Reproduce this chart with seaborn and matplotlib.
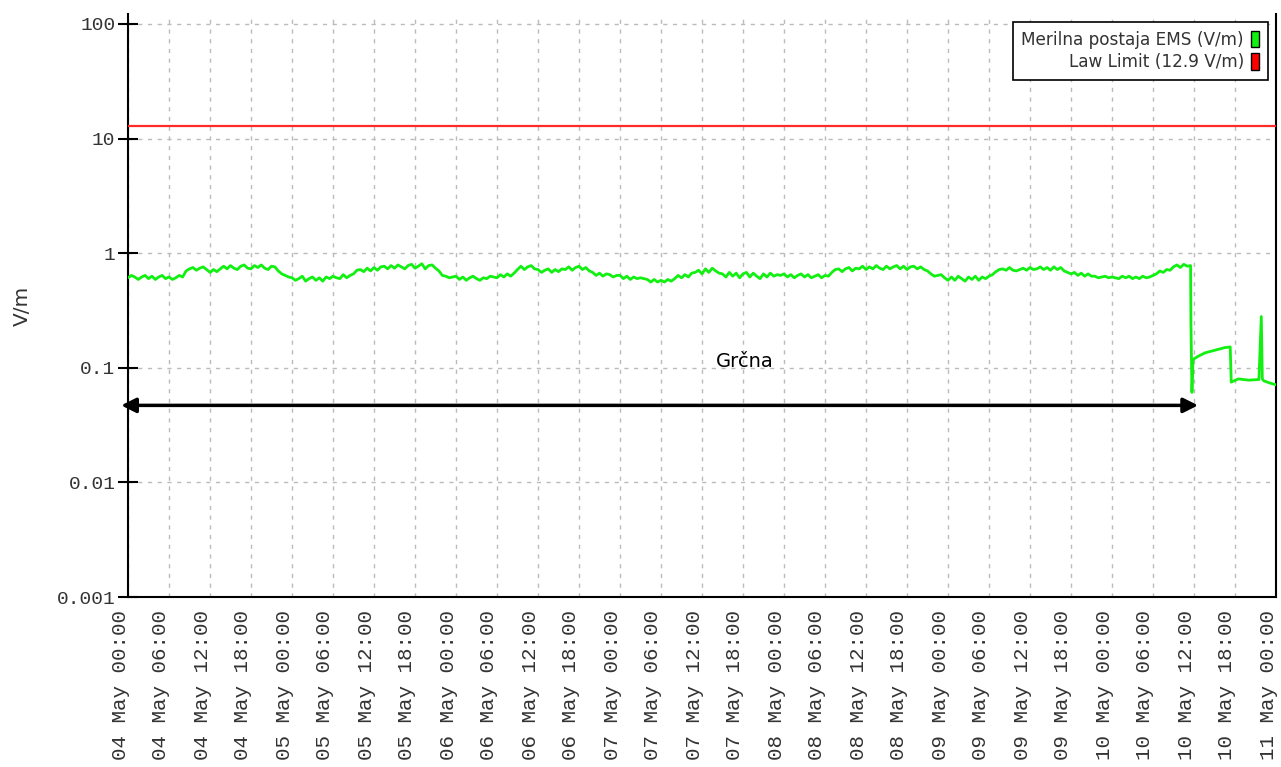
"""EMS field strength time series (Grčna) on a log scale."""

import matplotlib
matplotlib.use("Agg")
import matplotlib.dates as mdates
import matplotlib.pyplot as plt
import matplotlib.ticker as mticker
import matplotlib.transforms as mtransforms
import pandas as pd
import seaborn as sns
from matplotlib.patches import Patch

# --- data ----------------------------------------------------------------
START = pd.Timestamp("2023-05-04 00:00")
END = pd.Timestamp("2023-05-11 00:00")

# half-hourly readings (V/m), one row per day, from 04 May 00:00 to 10 May 11:30
field_day1 = [0.61, 0.64, 0.62, 0.59, 0.62, 0.64, 0.60, 0.63, 0.59, 0.62, 0.64, 0.60,
              0.62, 0.59, 0.61, 0.64, 0.62, 0.70, 0.73, 0.75, 0.71, 0.74, 0.76, 0.72,
              0.68, 0.72, 0.69, 0.73, 0.77, 0.73, 0.78, 0.74, 0.72, 0.77, 0.79, 0.74,
              0.73, 0.78, 0.75, 0.79, 0.74, 0.72, 0.77, 0.76, 0.70, 0.66, 0.64, 0.62]
field_day2 = [0.61, 0.58, 0.60, 0.63, 0.57, 0.60, 0.62, 0.58, 0.61, 0.57, 0.62, 0.60,
              0.63, 0.61, 0.60, 0.65, 0.61, 0.64, 0.66, 0.71, 0.72, 0.69, 0.74, 0.70,
              0.75, 0.71, 0.76, 0.77, 0.73, 0.78, 0.74, 0.79, 0.76, 0.73, 0.78, 0.80,
              0.74, 0.77, 0.81, 0.73, 0.78, 0.79, 0.74, 0.70, 0.64, 0.63, 0.61, 0.62]
field_day3 = [0.63, 0.59, 0.62, 0.58, 0.61, 0.63, 0.60, 0.58, 0.61, 0.60, 0.63, 0.62,
              0.61, 0.65, 0.62, 0.66, 0.63, 0.67, 0.72, 0.77, 0.72, 0.76, 0.78, 0.73,
              0.72, 0.68, 0.71, 0.73, 0.68, 0.72, 0.69, 0.73, 0.72, 0.76, 0.71, 0.75,
              0.77, 0.72, 0.75, 0.70, 0.68, 0.64, 0.67, 0.63, 0.66, 0.65, 0.62, 0.64]
field_day4 = [0.64, 0.60, 0.63, 0.59, 0.62, 0.60, 0.61, 0.60, 0.59, 0.56, 0.59, 0.56,
              0.58, 0.56, 0.59, 0.57, 0.60, 0.64, 0.61, 0.65, 0.62, 0.67, 0.68, 0.71,
              0.66, 0.73, 0.68, 0.74, 0.70, 0.67, 0.66, 0.62, 0.68, 0.63, 0.67, 0.61,
              0.66, 0.68, 0.62, 0.67, 0.63, 0.60, 0.66, 0.62, 0.67, 0.63, 0.65, 0.64]
field_day5 = [0.66, 0.62, 0.65, 0.61, 0.64, 0.66, 0.62, 0.65, 0.61, 0.63, 0.65, 0.61,
              0.64, 0.63, 0.68, 0.72, 0.73, 0.69, 0.73, 0.75, 0.70, 0.74, 0.73, 0.77,
              0.72, 0.76, 0.73, 0.78, 0.74, 0.72, 0.77, 0.73, 0.76, 0.78, 0.73, 0.77,
              0.72, 0.76, 0.77, 0.73, 0.76, 0.72, 0.70, 0.66, 0.63, 0.64, 0.65, 0.61]
field_day6 = [0.58, 0.62, 0.58, 0.63, 0.60, 0.57, 0.62, 0.59, 0.63, 0.58, 0.62, 0.60,
              0.63, 0.65, 0.69, 0.72, 0.73, 0.71, 0.75, 0.71, 0.70, 0.72, 0.74, 0.71,
              0.75, 0.72, 0.73, 0.76, 0.72, 0.75, 0.71, 0.76, 0.72, 0.75, 0.70, 0.68,
              0.66, 0.68, 0.64, 0.67, 0.63, 0.66, 0.63, 0.63, 0.61, 0.62, 0.63, 0.61]
field_day7 = [0.62, 0.61, 0.60, 0.63, 0.61, 0.63, 0.60, 0.62, 0.60, 0.63, 0.61, 0.62,
              0.64, 0.66, 0.70, 0.68, 0.72, 0.71, 0.76, 0.79, 0.75, 0.80, 0.77, 0.78]

# irregular readings after the drop on 10 May (hours since START, V/m)
tail_hours = [155.55, 155.7, 155.85, 156.5, 157.6, 159.0, 160.5, 161.3, 161.45,
              162.5, 164.0, 165.5, 165.85, 166.0, 166.2, 167.0, 168.0]
tail_field = [0.25, 0.061, 0.118, 0.125, 0.135, 0.142, 0.150, 0.152, 0.075,
              0.080, 0.078, 0.079, 0.28, 0.080, 0.077, 0.074, 0.071]

LAW_LIMIT = 12.9
series_labels = ["Merilna postaja EMS (V/m)", "Law Limit (12.9 V/m)"]
y_ticks = [0.001, 0.01, 0.1, 1, 10, 100]
y_tick_labels = ["0.001", "0.01", "0.1", "1", "10", "100"]

ANNOT_TEXT = "Grčna"
annot_hours = 90.3
annot_value = 0.113
arrow_hours = (-1.0, 156.6)
arrow_value = 0.047

GREEN = "#11f011"
RED = "#ff2a2a"


def build_frame() -> pd.DataFrame:
    regular = field_day1 + field_day2 + field_day3 + field_day4 + field_day5 + field_day6 + field_day7
    t_regular = pd.date_range(START, periods=len(regular), freq="30min")
    t_tail = START + pd.to_timedelta(tail_hours, unit="h")
    return pd.DataFrame({
        "time": list(t_regular) + list(t_tail),
        "value": regular + tail_field,
    })


def main() -> None:
    sns.set_theme(style="white")
    plt.rcParams["font.family"] = ["DejaVu Sans"]

    df = build_frame()

    fig = plt.figure(figsize=(12.81, 7.67), dpi=100)
    ax = fig.add_axes([128 / 1281, 1 - 597 / 767, (1276 - 128) / 1281, (597 - 14) / 767])

    sns.lineplot(data=df, x="time", y="value", color=GREEN, lw=2.0, ax=ax, zorder=3)
    ax.axhline(LAW_LIMIT, color=RED, lw=1.6, zorder=3)

    ax.set_yscale("log")
    ax.set_ylim(0.001, 10 ** (2 + 10 / 114.6))
    ax.set_xlim(START, END)

    # y axis
    ax.yaxis.set_major_locator(mticker.FixedLocator(y_ticks))
    ax.yaxis.set_major_formatter(mticker.FixedFormatter(y_tick_labels))
    ax.yaxis.set_minor_locator(mticker.NullLocator())
    ax.tick_params(axis="y", direction="inout", length=14, width=1.5, color="black",
                   pad=2, labelsize=14, labelcolor="#333333", left=True)
    for lbl in ax.get_yticklabels():
        lbl.set_family("Liberation Mono")

    # x axis
    ax.xaxis.set_major_locator(mdates.HourLocator(byhour=[0, 6, 12, 18]))
    ax.xaxis.set_major_formatter(mdates.DateFormatter("%d %b %H:%M"))
    ax.tick_params(axis="x", length=0, pad=9, labelsize=15, labelcolor="#333333",
                   labelrotation=90)
    shift = mtransforms.ScaledTranslation(-8 / 100, 0, fig.dpi_scale_trans)
    for lbl in ax.get_xticklabels():
        lbl.set_family("Liberation Mono")
        lbl.set_transform(lbl.get_transform() + shift)

    ax.set_xlabel("")
    ax.set_ylabel("V/m", fontsize=14.5, color="#333333", va="center")
    ax.yaxis.set_label_coords((22 - 128) / 1148, 0.5)

    ax.grid(True, which="major", color="#bbbbbb", lw=1, linestyle=(0, (3, 4)))

    for side in ["left", "bottom", "right"]:
        ax.spines[side].set_visible(True)
        ax.spines[side].set_color("black")
        ax.spines[side].set_linewidth(1.5)
    ax.spines["top"].set_visible(False)

    # annotation: station name and double arrow
    x0 = mdates.date2num(START + pd.Timedelta(hours=arrow_hours[0]))
    x1 = mdates.date2num(START + pd.Timedelta(hours=arrow_hours[1]))
    ax.annotate("", xy=(x1, arrow_value), xytext=(x0, arrow_value),
                arrowprops=dict(arrowstyle="<|-|>", color="black", lw=2.5,
                                mutation_scale=22, shrinkA=0, shrinkB=0),
                annotation_clip=False, zorder=4)
    xt = mdates.date2num(START + pd.Timedelta(hours=annot_hours))
    ax.text(xt, annot_value, ANNOT_TEXT, ha="center", va="center", fontsize=14,
            color="black", zorder=4)

    handles = [Patch(facecolor=GREEN, edgecolor="black", lw=1),
               Patch(facecolor="#ff0000", edgecolor="black", lw=1)]
    leg = ax.legend(handles, series_labels, loc="upper right", markerfirst=False,
                    handlelength=0.5, handleheight=1.1, handletextpad=0.4,
                    labelspacing=0.25, borderaxespad=0.5, fontsize=12.2,
                    frameon=True, fancybox=False, framealpha=1, edgecolor="black",
                    borderpad=0.5)
    leg.get_frame().set_linewidth(1.2)
    for t in leg.get_texts():
        t.set_color("#333333")
        t.set_ha("right")

    fig.savefig("out.png", dpi=100)
    plt.close(fig)


if __name__ == "__main__":
    main()
